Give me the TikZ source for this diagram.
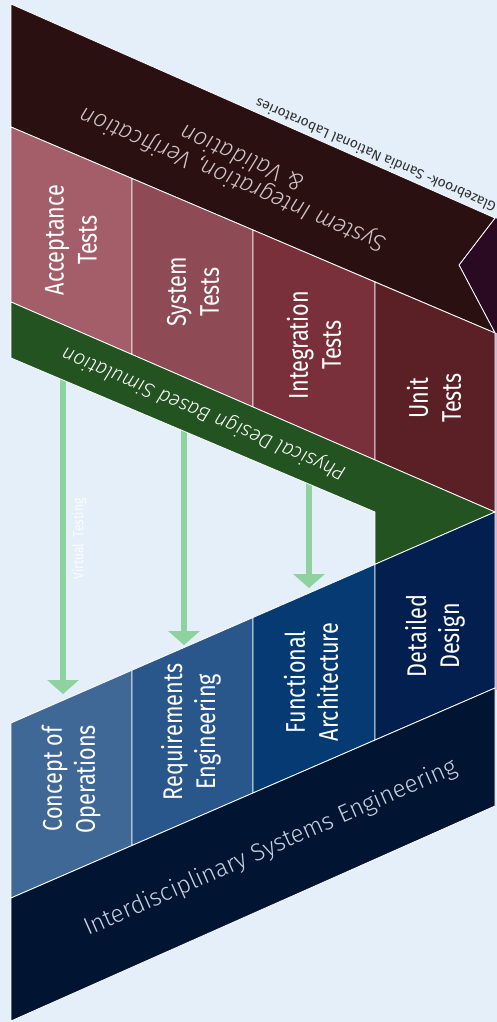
\documentclass[tikz,border=0pt]{standalone}
\usepackage{fontspec}
\usetikzlibrary{arrows.meta}
\setmainfont{Fira Sans}
\newfontfamily\condf[FakeStretch=0.8]{Fira Sans}
\IfFontExistsTF{Fira Sans Light}{\newfontfamily\lightf{Fira Sans Light}}{\newfontfamily\lightf{Fira Sans}}
\definecolor{bg}{HTML}{E4EFF9}
\definecolor{sysband}{HTML}{2B1012}
\definecolor{purp}{HTML}{2A0A22}
\definecolor{acc}{HTML}{A35E69}
\definecolor{syst}{HTML}{8E4A55}
\definecolor{integ}{HTML}{7A303B}
\definecolor{unit}{HTML}{5A2026}
\definecolor{simgreen}{HTML}{225320}
\definecolor{conops}{HTML}{3F6897}
\definecolor{reqeng}{HTML}{2A578B}
\definecolor{funarch}{HTML}{053B72}
\definecolor{detdes}{HTML}{021F4F}
\definecolor{iseband}{HTML}{011432}
\definecolor{arrowgreen}{HTML}{8ED2A0}
\definecolor{sysfg}{HTML}{CFC4C6}
\definecolor{isefg}{HTML}{C8D0DE}
\definecolor{creditfg}{HTML}{2E2E2E}
\definecolor{edgelav}{HTML}{C9B9CC}
\tikzset{
  shapeedge/.style={draw=white, line width=0.8pt, line join=miter},
  collabel/.style={text=white, font=\condf\fontsize{27}{33}\selectfont, align=center, rotate=90, inner sep=0pt},
  bandtext/.style={align=center, inner sep=0pt},
  vtarrow/.style={draw=arrowgreen, line width=6pt, -{Triangle[width=31pt,length=14pt]}}
}
\begin{document}
\begin{tikzpicture}[x=1pt,y=-1pt]
\useasboundingbox (0,0) rectangle (497,1022);
\fill[bg] (0,0) rectangle (497,1022);
% arrows (drawn first, start under the green band)
\coordinate (a1s) at (63,378);
\coordinate (a1e) at (63,694);
\coordinate (a2s) at (184,429);
\coordinate (a2e) at (184,645);
\coordinate (a3s) at (309,482);
\coordinate (a3e) at (309,588);
\draw[vtarrow] (a1s) -- (a1e);
\draw[vtarrow] (a2s) -- (a2e);
\draw[vtarrow] (a3s) -- (a3e);
% purple shape on right
\fill[purp] (495,218) -- (459,265) -- (495,333) -- (510,340) -- (510,224) -- cycle;
\draw[white, line width=0.8pt] (495,218) -- (459,265) -- (495,333);
\draw[edgelav, line width=1.6pt] (496.2,333) -- (496.2,690);
% system integration band
\filldraw[sysband, shapeedge] (11,4) -- (495,218) -- (459,265) -- (495,333) -- (11,127) -- cycle;
% test columns
\filldraw[acc, shapeedge] (11,127) -- (132,178.5) -- (132,354.5) -- (11,302) -- cycle;
\filldraw[syst, shapeedge] (132,178.5) -- (253,230) -- (253,407) -- (132,354.5) -- cycle;
\filldraw[integ, shapeedge] (253,230) -- (375,282) -- (375,460) -- (253,407) -- cycle;
\filldraw[unit, shapeedge] (375,282) -- (495,333) -- (495,512) -- (375,460) -- cycle;
% green simulation band
\filldraw[simgreen, shapeedge] (11,302) -- (495,512) -- (375,564.3) -- (375,512) -- (11,358) -- cycle;
% design columns
\filldraw[conops, shapeedge] (11,723) -- (132,670.2) -- (132,845.5) -- (11,898) -- cycle;
\filldraw[reqeng, shapeedge] (132,670.2) -- (253,617.5) -- (253,793) -- (132,845.5) -- cycle;
\filldraw[funarch, shapeedge] (253,617.5) -- (375,564.3) -- (375,740) -- (253,793) -- cycle;
\filldraw[detdes, shapeedge] (375,564.3) -- (495,512) -- (495,688) -- (375,740) -- cycle;
% interdisciplinary band
\filldraw[iseband, shapeedge] (11,898) -- (495,688) -- (495,806) -- (11,1021) -- cycle;
% column labels
\node[collabel] (acclab) at (71,240) {Acceptance\\Tests};
\node[collabel] (syslab) at (193,292) {System\\Tests};
\node[collabel] (intlab) at (314,345) {Integration\\Tests};
\node[collabel] (unitlab) at (434,398) {Unit\\Tests};
\node[collabel] (conlab) at (71,779) {Concept of\\Operations};
\node[collabel] (reqlab) at (191,732) {Requirements\\Engineering};
\node[collabel] (funlab) at (311,682) {Functional\\Architecture};
\node[collabel] (detlab) at (435,636) {Detailed\\Design};
% band labels
\node[bandtext, rotate=156.5, text=sysfg, font=\lightf\itshape\fontsize{24}{23}\selectfont] (sivv) at (237,170) {System Integration, Verification\\\& Validation};
\node[bandtext, rotate=156.7, text=white, font=\lightf\itshape\fontsize{20.5}{22}\selectfont] (pdbs) at (204,413) {Physical Design Based Simulation};
\node[rotate=23.8, text=isefg, font=\lightf\fontsize{24.3}{26}\selectfont, inner sep=0pt] (ise) at (271,848) {Interdisciplinary Systems Engineering};
\node[rotate=90, text=white, opacity=0.85, font=\condf\fontsize{15}{15}\selectfont, inner sep=0pt] (vt) at (79,539) {Virtual\ \ Testing};
\node[rotate=156.2, anchor=east, text=creditfg, font=\fontsize{13.8}{14}\selectfont, inner sep=0pt] (credit) at (256,103) {Glazebrook- Sandia National Laboratories};
\end{tikzpicture}
\end{document}
